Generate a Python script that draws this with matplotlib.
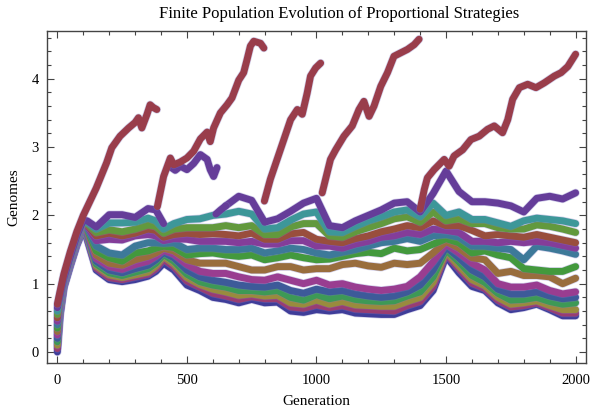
import colorsys
import matplotlib
matplotlib.use("Agg")
import matplotlib.pyplot as plt
import matplotlib.patheffects as pe
import numpy as np

plt.rcParams['font.family'] = ['Liberation Serif', 'DejaVu Serif']

# generations at which the ranked genome counts were sampled
generation = [0, 10, 25, 50, 75, 100, 115, 150, 200, 250, 300, 350, 380, 410,
              450, 500, 550, 600, 650, 700, 750, 800, 850, 900, 950, 1000,
              1050, 1100, 1150, 1200, 1250, 1300, 1350, 1400, 1450, 1500,
              1550, 1600, 1650, 1700, 1750, 1800, 1850, 1900, 1950, 2000]

# strategies ranked from lowest (rank01) to second highest (rank14)
rank01 = [0.00, 0.52, 0.94, 1.26, 1.56, 1.79, 1.65, 1.20, 1.06, 1.03, 1.06, 1.11, 1.18, 1.30, 1.20, 0.98,
          0.90, 0.80, 0.77, 0.72, 0.77, 0.72, 0.73, 0.60, 0.58, 0.62, 0.60, 0.62, 0.57, 0.56, 0.55, 0.55,
          0.62, 0.68, 0.90, 1.40, 1.16, 0.96, 0.90, 0.72, 0.62, 0.65, 0.70, 0.62, 0.53, 0.53]
rank02 = [0.05, 0.56, 0.96, 1.28, 1.58, 1.81, 1.68, 1.23, 1.09, 1.06, 1.10, 1.14, 1.22, 1.36, 1.25, 1.04,
          0.95, 0.86, 0.82, 0.77, 0.81, 0.78, 0.78, 0.66, 0.64, 0.69, 0.65, 0.68, 0.63, 0.62, 0.61, 0.60,
          0.68, 0.74, 0.96, 1.44, 1.22, 1.01, 0.93, 0.76, 0.66, 0.68, 0.72, 0.65, 0.57, 0.57]
rank03 = [0.10, 0.59, 0.97, 1.29, 1.59, 1.82, 1.70, 1.26, 1.13, 1.09, 1.13, 1.17, 1.26, 1.40, 1.29, 1.09,
          0.99, 0.92, 0.88, 0.83, 0.85, 0.82, 0.83, 0.72, 0.70, 0.76, 0.70, 0.74, 0.69, 0.68, 0.67, 0.67,
          0.74, 0.80, 1.02, 1.47, 1.26, 1.06, 0.97, 0.80, 0.70, 0.72, 0.75, 0.68, 0.62, 0.62]
rank04 = [0.15, 0.62, 0.98, 1.30, 1.60, 1.83, 1.72, 1.29, 1.16, 1.12, 1.17, 1.22, 1.30, 1.43, 1.33, 1.14,
          1.03, 0.98, 0.95, 0.90, 0.90, 0.88, 0.90, 0.80, 0.76, 0.84, 0.78, 0.82, 0.77, 0.75, 0.74, 0.75,
          0.82, 0.88, 1.10, 1.50, 1.32, 1.12, 1.02, 0.86, 0.76, 0.77, 0.80, 0.74, 0.70, 0.72]
rank05 = [0.20, 0.64, 0.99, 1.31, 1.61, 1.84, 1.74, 1.33, 1.20, 1.16, 1.22, 1.27, 1.35, 1.46, 1.38, 1.20,
          1.10, 1.05, 1.02, 0.98, 0.96, 0.95, 0.98, 0.90, 0.86, 0.92, 0.88, 0.90, 0.85, 0.82, 0.80, 0.82,
          0.88, 0.98, 1.20, 1.54, 1.38, 1.20, 1.10, 0.92, 0.85, 0.85, 0.88, 0.82, 0.78, 0.80]
rank06 = [0.25, 0.67, 1.00, 1.32, 1.62, 1.85, 1.76, 1.37, 1.25, 1.21, 1.28, 1.33, 1.40, 1.49, 1.43, 1.28,
          1.18, 1.15, 1.15, 1.10, 1.06, 1.05, 1.10, 1.05, 1.00, 1.05, 0.98, 1.00, 0.95, 0.92, 0.90, 0.92,
          0.96, 1.10, 1.32, 1.58, 1.45, 1.30, 1.20, 1.00, 0.95, 0.95, 0.98, 0.90, 0.85, 0.88]
rank07 = [0.30, 0.69, 1.01, 1.33, 1.63, 1.86, 1.78, 1.42, 1.30, 1.27, 1.35, 1.40, 1.45, 1.52, 1.48, 1.35,
          1.30, 1.30, 1.30, 1.25, 1.20, 1.20, 1.25, 1.25, 1.20, 1.22, 1.22, 1.28, 1.30, 1.26, 1.24, 1.30,
          1.28, 1.30, 1.45, 1.62, 1.52, 1.38, 1.35, 1.15, 1.18, 1.12, 1.12, 1.10, 1.00, 1.08]
rank08 = [0.35, 0.71, 1.02, 1.34, 1.64, 1.87, 1.80, 1.48, 1.38, 1.33, 1.45, 1.48, 1.52, 1.55, 1.53, 1.42,
          1.44, 1.45, 1.42, 1.40, 1.42, 1.35, 1.38, 1.42, 1.38, 1.35, 1.36, 1.40, 1.44, 1.46, 1.44, 1.52,
          1.48, 1.50, 1.58, 1.66, 1.60, 1.45, 1.48, 1.42, 1.38, 1.22, 1.20, 1.18, 1.18, 1.25]
rank09 = [0.40, 0.73, 1.03, 1.35, 1.65, 1.88, 1.82, 1.55, 1.45, 1.42, 1.55, 1.60, 1.60, 1.59, 1.60, 1.50,
          1.52, 1.52, 1.50, 1.50, 1.52, 1.45, 1.48, 1.52, 1.50, 1.45, 1.42, 1.46, 1.50, 1.55, 1.60, 1.62,
          1.66, 1.62, 1.70, 1.72, 1.68, 1.55, 1.55, 1.52, 1.50, 1.35, 1.55, 1.52, 1.48, 1.43]
rank10 = [0.45, 0.75, 1.04, 1.36, 1.66, 1.89, 1.84, 1.63, 1.65, 1.64, 1.70, 1.72, 1.70, 1.63, 1.66, 1.65,
          1.62, 1.62, 1.62, 1.60, 1.62, 1.58, 1.58, 1.63, 1.63, 1.55, 1.55, 1.52, 1.58, 1.62, 1.68, 1.70,
          1.75, 1.72, 1.80, 1.78, 1.75, 1.62, 1.62, 1.60, 1.62, 1.60, 1.62, 1.60, 1.56, 1.52]
rank11 = [0.50, 0.77, 1.05, 1.37, 1.67, 1.90, 1.86, 1.70, 1.74, 1.70, 1.74, 1.80, 1.78, 1.68, 1.72, 1.74,
          1.72, 1.73, 1.72, 1.70, 1.74, 1.65, 1.65, 1.73, 1.75, 1.65, 1.62, 1.60, 1.66, 1.70, 1.76, 1.80,
          1.85, 1.82, 1.92, 1.85, 1.85, 1.78, 1.70, 1.72, 1.70, 1.68, 1.72, 1.68, 1.64, 1.60]
rank12 = [0.55, 0.79, 1.06, 1.38, 1.68, 1.91, 1.88, 1.75, 1.79, 1.76, 1.80, 1.86, 1.84, 1.74, 1.80, 1.82,
          1.82, 1.82, 1.85, 1.82, 1.85, 1.72, 1.72, 1.83, 1.88, 1.88, 1.70, 1.68, 1.76, 1.82, 1.88, 1.95,
          1.98, 1.90, 2.05, 1.92, 1.95, 1.88, 1.88, 1.82, 1.80, 1.80, 1.86, 1.84, 1.80, 1.75]
rank13 = [0.60, 0.80, 1.07, 1.39, 1.69, 1.92, 1.90, 1.80, 1.89, 1.89, 1.90, 1.96, 1.92, 1.80, 1.88, 1.94,
          1.95, 2.00, 2.02, 2.06, 2.02, 1.80, 1.82, 1.93, 2.02, 2.05, 1.76, 1.75, 1.84, 1.92, 1.98, 2.05,
          2.08, 1.98, 2.18, 2.00, 2.05, 1.94, 1.94, 1.89, 1.84, 1.92, 1.96, 1.94, 1.92, 1.88]
rank14 = [0.65, 0.82, 1.08, 1.40, 1.70, 1.93, 1.92, 1.83, 2.01, 2.01, 1.97, 2.10, 2.08, 1.88, None, None,
          None, None, 2.14, 2.28, 2.22, 1.90, 1.95, 2.06, 2.18, 2.25, 1.85, 1.82, 1.92, 2.00, 2.08, 2.18,
          2.20, 2.05, 2.32, 2.65, 2.35, 2.20, 2.20, 2.18, 2.14, 2.05, 2.25, 2.28, 2.24, 2.33]

# second place while it trails the leader (None breaks the trace)
rank14_extra_gen = [440, 455, 475, 500, 526, 552, 578, 590, 603, 616, None, 612, 630, 650]
rank14_extra_val = [2.70, 2.66, 2.72, 2.67, 2.76, 2.89, 2.82, 2.67, 2.57, 2.70, None, 2.02, 2.08, 2.14]

# the leading strategy; each None marks a collapse of the leader
top_gen = [0, 10, 25, 50, 75, 100, 115, 150, 190, 210, 242, 275, 300, 313, 326, 346, 358, 370, 384, None,
           386, 410, 436, 449, 474, 500, 526, 552, 578, 590, 603, 629, 655, 674, 700, 719, 732, 745, 758,
           784, 797, None,
           799, 822, 848, 874, 900, 926, 945, 964, 977, 997, 1016, None,
           1022, 1054, 1074, 1106, 1138, 1164, 1183, 1203, 1222, 1248, 1274, 1299, 1325, 1351, 1377, 1396,
           None,
           1400, 1416, 1428, 1454, 1493, 1512, 1531, 1564, 1596, 1628, 1660, 1686, 1718, 1738, 1757, 1783,
           1815, 1847, 1879, 1918, 1944, 1970, 2000]
top_val = [0.70, 0.88, 1.14, 1.47, 1.76, 2.00, 2.12, 2.40, 2.77, 2.99, 3.16, 3.28, 3.36, 3.43, 3.28, 3.48,
           3.62, 3.58, 3.55, None,
           2.13, 2.57, 2.84, 2.74, 2.78, 2.84, 2.94, 3.12, 3.22, 3.08, 3.28, 3.50, 3.62, 3.72, 3.98, 4.09,
           4.28, 4.48, 4.55, 4.52, 4.45, None,
           2.21, 2.53, 2.82, 3.11, 3.40, 3.55, 3.48, 3.79, 4.04, 4.16, 4.23, None,
           2.33, 2.82, 2.96, 3.16, 3.31, 3.55, 3.67, 3.45, 3.60, 3.89, 4.09, 4.33, 4.38, 4.43, 4.50, 4.58,
           None,
           2.09, 2.38, 2.55, 2.67, 2.82, 2.72, 2.87, 2.96, 3.11, 3.16, 3.26, 3.31, 3.21, 3.40, 3.70, 3.87,
           3.92, 3.87, 3.94, 4.04, 4.09, 4.18, 4.36]


def as_float(values):
    return np.array([np.nan if v is None else v for v in values], dtype=float)


# default Mathematica-like hue sequence
colors = [colorsys.hsv_to_rgb((0.67 + 0.236068 * k) % 1.0, 0.6, 0.6) for k in range(15)]

fig = plt.figure(figsize=(5.91, 4.11), dpi=100)
ax = fig.add_axes([0.0795, 0.117, 0.912, 0.8076])

lw = 5.0
halo = [pe.Stroke(linewidth=lw + 1.0, foreground='#7d78c4', alpha=0.35), pe.Normal()]
style = dict(lw=lw, solid_capstyle='round', solid_joinstyle='round', path_effects=halo)

ranks = [rank01, rank02, rank03, rank04, rank05, rank06, rank07,
         rank08, rank09, rank10, rank11, rank12, rank13, rank14]
for k, vals in enumerate(ranks):
    ax.plot(generation, as_float(vals), color=colors[k], **style)
ax.plot(as_float(rank14_extra_gen), as_float(rank14_extra_val), color=colors[13], **style)
ax.plot(as_float(top_gen), as_float(top_val), color=colors[14], **style)

ax.set_xlim(-40, 2040)
ax.set_ylim(-0.16, 4.70)
ax.set_xticks([0, 500, 1000, 1500, 2000])
ax.set_xticks(np.arange(0, 2001, 100), minor=True)
ax.set_yticks([0, 1, 2, 3, 4])
ax.set_yticks(np.arange(0, 4.61, 0.2), minor=True)
ax.tick_params(which='both', direction='in', top=True, right=True, color='#444444',
               labelsize=10.5, width=0.8)
ax.tick_params(which='major', length=5)
ax.tick_params(which='minor', length=2.8)
ax.tick_params(axis='x', pad=8)
ax.tick_params(axis='y', pad=6)
for s in ax.spines.values():
    s.set_color('#444444')
    s.set_linewidth(1.0)

fig.text(0.574, 0.966, 'Finite Population Evolution of Proportional Strategies',
         fontsize=12, ha='center', va='center')
ax.set_xlabel('Generation', fontsize=11, labelpad=6)
ax.set_ylabel('Genomes', fontsize=11, labelpad=8)

fig.savefig('out.png', dpi=100)
